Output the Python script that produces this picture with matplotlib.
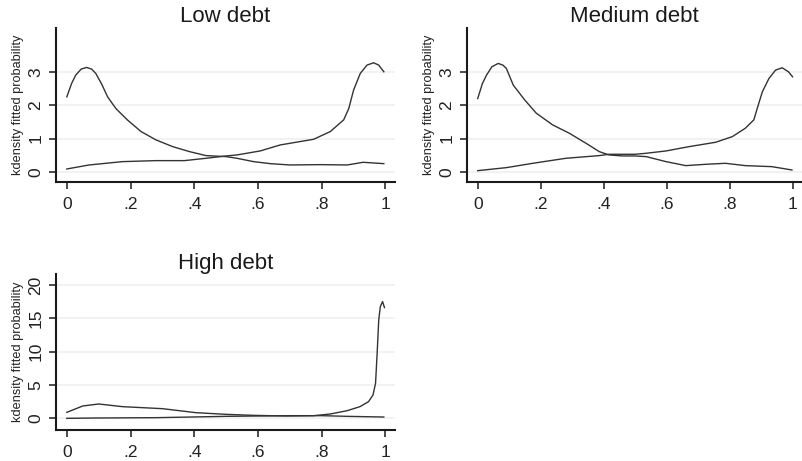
import numpy as np
import matplotlib.pyplot as plt

plt.rcParams['font.family'] = ['Liberation Sans', 'DejaVu Sans']

# Low debt: density falling from the left, density rising to the right
low_dec_x = [0, 0.015, 0.028, 0.045, 0.062, 0.078, 0.091, 0.11, 0.128, 0.154, 0.19, 0.233,
             0.28, 0.332, 0.385, 0.437, 0.5, 0.534, 0.586, 0.638, 0.70, 0.796, 0.88, 0.93, 0.995]
low_dec_y = [2.25, 2.65, 2.9, 3.08, 3.13, 3.08, 2.95, 2.62, 2.25, 1.9, 1.56, 1.21,
             0.96, 0.76, 0.61, 0.49, 0.46, 0.41, 0.31, 0.25, 0.21, 0.22, 0.21, 0.29, 0.25]
low_inc_x = [0, 0.07, 0.175, 0.28, 0.369, 0.437, 0.5, 0.534, 0.607, 0.67, 0.775,
             0.827, 0.869, 0.885, 0.9, 0.921, 0.942, 0.963, 0.979, 0.995]
low_inc_y = [0.09, 0.21, 0.31, 0.34, 0.34, 0.41, 0.48, 0.51, 0.63, 0.81, 0.98,
             1.21, 1.56, 1.9, 2.45, 2.95, 3.2, 3.27, 3.2, 3.0]

# Medium debt
med_dec_x = [0, 0.015, 0.028, 0.045, 0.065, 0.08, 0.091, 0.113, 0.149, 0.186, 0.238, 0.291,
             0.344, 0.386, 0.417, 0.46, 0.5, 0.535, 0.598, 0.661, 0.724, 0.787, 0.85, 0.934, 0.998]
med_dec_y = [2.2, 2.65, 2.9, 3.15, 3.25, 3.2, 3.1, 2.6, 2.16, 1.76, 1.41, 1.16,
             0.86, 0.61, 0.51, 0.48, 0.48, 0.46, 0.31, 0.19, 0.23, 0.26, 0.19, 0.16, 0.06]
med_inc_x = [0, 0.091, 0.175, 0.28, 0.386, 0.417, 0.5, 0.535, 0.598, 0.672, 0.756,
             0.809, 0.85, 0.877, 0.888, 0.904, 0.925, 0.946, 0.967, 0.987, 1.0]
med_inc_y = [0.04, 0.13, 0.26, 0.41, 0.49, 0.53, 0.53, 0.56, 0.63, 0.76, 0.89,
             1.06, 1.31, 1.56, 1.91, 2.4, 2.8, 3.05, 3.12, 3.0, 2.85]

# High debt
high_inc_x = [0, 0.05, 0.10, 0.175, 0.30, 0.405, 0.5, 0.586, 0.69, 0.775, 0.827,
              0.88, 0.92, 0.947, 0.961, 0.969, 0.974, 0.979, 0.984, 0.991, 0.997]
high_inc_y = [0.9, 1.85, 2.15, 1.75, 1.45, 0.85, 0.6, 0.45, 0.35, 0.4, 0.65,
              1.15, 1.75, 2.5, 3.5, 5.25, 9.75, 14.75, 16.75, 17.5, 16.6]
high_dec_x = [0, 0.09, 0.28, 0.5, 0.69, 0.80, 0.88, 0.995]
high_dec_y = [0.0, 0.05, 0.1, 0.3, 0.4, 0.4, 0.3, 0.2]

x_ticks = [0, 0.2, 0.4, 0.6, 0.8, 1]
x_labels = ['0', '.2', '.4', '.6', '.8', '1']

panels = [
    ('Low debt', [0.0698, 0.6052, 0.4227, 0.334], (low_dec_x, low_dec_y), (low_inc_x, low_inc_y),
     [0, 1, 2, 3], (-0.30, 4.31)),
    ('Medium debt', [0.5823, 0.6052, 0.4177, 0.334], (med_dec_x, med_dec_y), (med_inc_x, med_inc_y),
     [0, 1, 2, 3], (-0.30, 4.31)),
    ('High debt', [0.0698, 0.0672, 0.4227, 0.338], (high_dec_x, high_dec_y), (high_inc_x, high_inc_y),
     [0, 5, 10, 15, 20], (-1.75, 21.6)),
]

fig = plt.figure(figsize=(8.02, 4.61), dpi=100)

for title, rect, c1, c2, yticks, ylim in panels:
    ax = fig.add_axes(rect)
    ax.plot(c1[0], c1[1], color='#333333', lw=1.0)
    ax.plot(c2[0], c2[1], color='#333333', lw=1.0)
    ax.set_xlim(-0.034, 1.03)
    ax.set_ylim(*ylim)
    ax.set_xticks(x_ticks)
    ax.set_xticklabels(x_labels)
    ax.set_yticks(yticks)
    ax.set_yticklabels([str(t) for t in yticks], rotation=90, va='center')
    ax.grid(axis='y', color='#f0f0f0', lw=1.2)
    ax.set_axisbelow(True)
    for s in ['top', 'right']:
        ax.spines[s].set_visible(False)
    for s in ['left', 'bottom']:
        ax.spines[s].set_linewidth(1.5)
        ax.spines[s].set_color('#1a1a1a')
    ax.tick_params(length=5, width=1.1, color='#1a1a1a', labelsize=12.5,
                   labelcolor='#222222')
    ax.tick_params(axis='x', pad=6)
    ax.tick_params(axis='y', pad=4)
    ax.set_title(title, fontsize=16, pad=4, color='#1a1a1a')
    ax.set_ylabel('kdensity fitted probability', fontsize=9.2, labelpad=3,
                  color='#222222')

fig.savefig('out.png', dpi=100)
